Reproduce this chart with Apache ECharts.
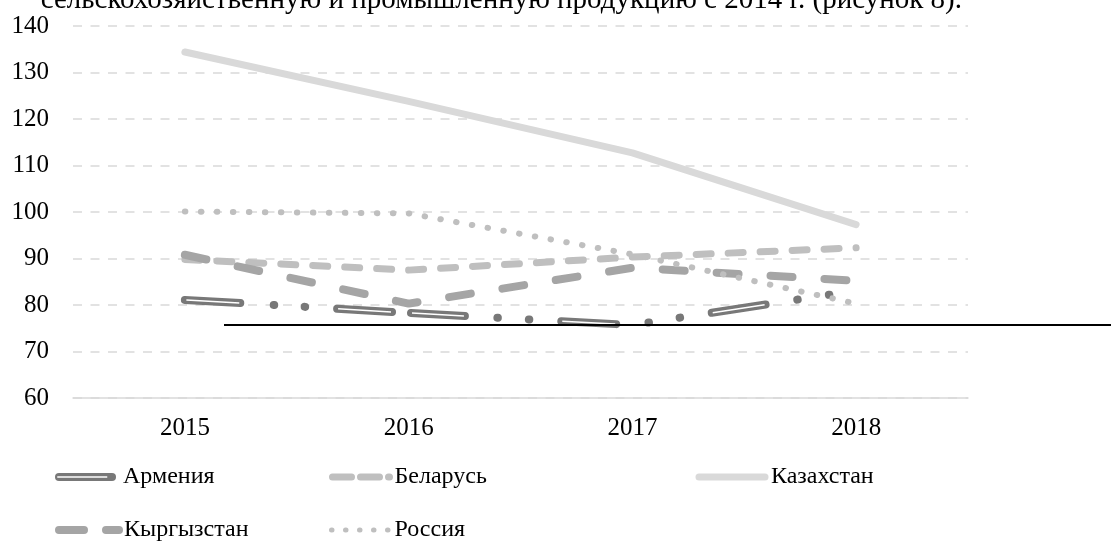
<!DOCTYPE html>
<html>
<head>
<meta charset="utf-8">
<script src="https://cdn.jsdelivr.net/npm/echarts@6/dist/echarts.min.js"></script>
<style>
html,body{margin:0;padding:0;background:#fff;}
#chart{width:1111px;height:545px;}
</style>
</head>
<body>
<div id="chart"></div>
<script>
const categories = ['2015', '2016', '2017', '2018'];
const armenia = [81.1, 78.3, 75.7, 83.1];
const belarus = [89.8, 87.5, 90.3, 92.3];
const kazakhstan = [134.4, 123.8, 112.7, 97.3];
const kyrgyzstan = [90.8, 80.3, 88.0, 85.2];
const russia = [100.1, 99.7, 90.9, 80.3];
const seriesNames = ['Армения', 'Беларусь', 'Казахстан', 'Кыргызстан', 'Россия'];
const innerName = 'Армения ';
const headerText = 'сельскохозяйственную и промышленную продукцию с 2014 г. (рисунок 8).';

const FONT = '"Liberation Serif", "Times New Roman", serif';
const chart = echarts.init(document.getElementById('chart'));

function legendItem(name, left, top, width, height, lineStyle, pad, z) {
  return {
    data: [name],
    left: left, top: top,
    itemWidth: width, itemHeight: height,
    orient: 'horizontal',
    padding: 0,
    selectedMode: false,
    z: z || 2,
    itemStyle: { color: 'rgba(0,0,0,0)', borderWidth: 0 },
    lineStyle: lineStyle,
    formatter: name === innerName ? () => ' ' : '{name}',
    textStyle: { fontFamily: FONT, fontSize: 24, color: '#000', padding: [0, 0, 0, pad] }
  };
}

// Excel-like "long dash - dot - dot" pattern for Armenia (outer) and its white core
const armeniaOuterDash = [55.5, 33.5, 0.5, 30.5, 0.5, 32, 55, 19, 54, 32.5, 0.5, 31, 0.5, 32, 55, 32.5, 0.5, 31, 0.5, 32, 54.5, 32, 0.5, 31.5, 0.5, 300];
const armeniaInnerDash = [0, 1.5, 53, 99, 53, 21, 52, 98.5, 53, 98.5, 52.5, 400];

const option = {
  animation: false,
  backgroundColor: '#fff',
  grid: { left: 73, right: 143, top: 26, bottom: 147, containLabel: false },
  xAxis: {
    type: 'category',
    data: categories,
    axisLine: { show: true, lineStyle: { color: '#d9d9d9', width: 1.5 } },
    axisTick: { show: false },
    axisLabel: { color: '#000', fontFamily: FONT, fontSize: 25, margin: 18 },
    splitLine: { show: false }
  },
  yAxis: {
    type: 'value',
    min: 60, max: 140, interval: 10,
    axisLine: { show: false },
    axisTick: { show: false },
    axisLabel: { color: '#000', fontFamily: FONT, fontSize: 25, margin: 24 },
    splitLine: { show: true, lineStyle: { color: '#d9d9d9', width: 1.5, type: [9, 8.5] } }
  },
  legend: [
    legendItem(seriesNames[0], 55, 465, 53, 14, { width: 8, type: 'solid', cap: 'round' }, 6, 2),
    legendItem(innerName, 56.5, 465, 50, 14, { width: 1.5, type: 'solid', cap: 'butt' }, 0, 3),
    legendItem(seriesNames[1], 329, 465, 57, 14, { width: 7, type: [19, 9], cap: 'round' }, 0, 2),
    legendItem(seriesNames[2], 695.5, 465, 66, 14, { width: 7, type: 'solid', cap: 'round' }, 1, 2),
    legendItem(seriesNames[3], 55, 518, 60, 14, { width: 8, type: [25, 22], cap: 'round' }, 0, 2),
    legendItem(seriesNames[4], 329, 518, 58, 14, { width: 5, type: [0.5, 13.5], cap: 'round' }, 0, 2)
  ],
  graphic: [
    {
      type: 'text', x: 962, y: 15,
      style: { text: headerText, font: '29px ' + FONT, fill: '#000', align: 'right', verticalAlign: 'bottom' }
    },
    {
      type: 'line', z: 100,
      shape: { x1: 224, y1: 325, x2: 1111, y2: 325 },
      style: { stroke: '#000', lineWidth: 2 }
    }
  ],
  series: [
    {
      name: seriesNames[0], type: 'line', data: armenia, symbol: 'none', z: 2,
      lineStyle: { color: '#787878', width: 8, type: armeniaOuterDash, cap: 'round', join: 'round' },
      itemStyle: { color: '#787878' }
    },
    {
      name: innerName, type: 'line', data: armenia, symbol: 'none', z: 3,
      lineStyle: { color: '#ffffff', width: 1.5, type: armeniaInnerDash, cap: 'butt', join: 'round' },
      itemStyle: { color: '#ffffff' }
    },
    {
      name: seriesNames[1], type: 'line', data: belarus, symbol: 'none', z: 2,
      lineStyle: { color: '#bfbfbf', width: 7, type: [15, 17], cap: 'round', join: 'round' },
      itemStyle: { color: '#bfbfbf' }
    },
    {
      name: seriesNames[2], type: 'line', data: kazakhstan, symbol: 'none', z: 2,
      lineStyle: { color: '#d9d9d9', width: 7, type: 'solid', cap: 'round', join: 'round' },
      itemStyle: { color: '#d9d9d9' }
    },
    {
      name: seriesNames[3], type: 'line', data: kyrgyzstan, symbol: 'none', z: 2,
      lineStyle: { color: '#a5a5a5', width: 8, type: [22, 32], cap: 'round', join: 'round' },
      itemStyle: { color: '#a5a5a5' }
    },
    {
      name: seriesNames[4], type: 'line', data: russia, symbol: 'none', z: 2,
      lineStyle: { color: '#bfbfbf', width: 6, type: [0.5, 15.5], cap: 'round', join: 'round' },
      itemStyle: { color: '#bfbfbf' }
    }
  ]
};
chart.setOption(option);
</script>
</body>
</html>
